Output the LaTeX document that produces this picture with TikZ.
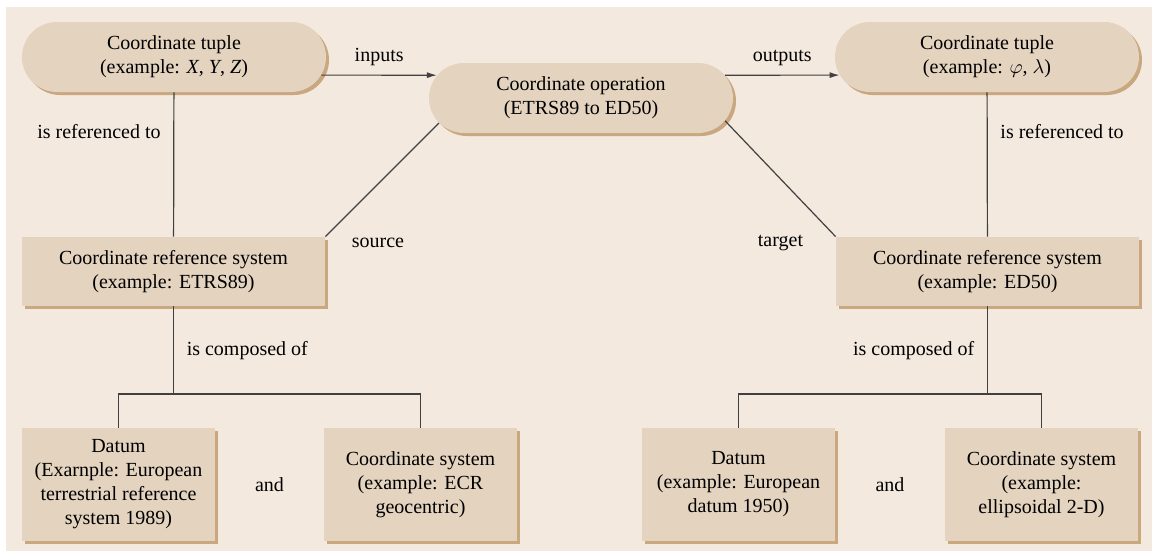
\documentclass[tikz,border=0pt]{standalone}
\usepackage{fontspec}
\setmainfont{LiberationSerif}[
  Extension=.ttf,
  UprightFont=*-Regular,
  ItalicFont=*-Italic,
  BoldFont=*-Bold,
  BoldItalicFont=*-BoldItalic]
\usetikzlibrary{arrows.meta,shapes.misc,shadows}

\definecolor{paper}{HTML}{F3E9DF}
\definecolor{boxfill}{HTML}{E3D3BF}
\definecolor{boxshade}{HTML}{C9A77F}
\definecolor{linkgray}{HTML}{404040}

\tikzset{
  boxshadow/.style={drop shadow={shadow xshift=1.5pt,shadow yshift=-1.5pt,fill=boxshade,opacity=1}},
  pill/.style={rounded rectangle, fill=boxfill, boxshadow, minimum width=152pt, minimum height=35pt, align=center, inner sep=0pt},
  crsbox/.style={rectangle, fill=boxfill, boxshadow, minimum width=151.5pt, minimum height=34.5pt, align=center},
  partbox/.style={rectangle, fill=boxfill, boxshadow, minimum width=96.5pt, minimum height=56.5pt, align=center, inner sep=2pt},
  link/.style={draw=linkgray, line width=0.6pt},
  flow/.style={link, -{Latex[length=5pt,width=3pt]}}
}

\begin{document}
\begin{tikzpicture}[x=0.5pt,y=-0.5pt,font=\rmfamily\fontsize{10}{12}\selectfont]
  \useasboundingbox (0,0) rectangle (1152,553);
  \fill[paper] (6,7) rectangle (1152,551);

  % top row
  \node[pill] (tupleL) at (174,57) {Coordinate tuple\\(example: \textit{X}, \textit{Y}, \textit{Z})};
  \node[pill] (op) at (581,98) {Coordinate operation\\(ETRS89 to ED50)};
  \node[pill] (tupleR) at (987,57) {Coordinate tuple\\(example: $\varphi$, $\lambda$)};

  % reference systems
  \node[crsbox] (crsL) at (173.5,271.5) {Coordinate reference system\\(example: ETRS89)};
  \node[crsbox] (crsR) at (987.5,271.5) {Coordinate reference system\\(example: ED50)};

  % components
  \node[partbox] (datumL) at (118.5,484.5) {Datum\\(Exarnple: European\\terrestrial reference\\system 1989)};
  \node[partbox] (csL) at (420.5,484.5) {Coordinate system\\(example: ECR\\geocentric)};
  \node[partbox] (datumR) at (738.5,484.5) {Datum\\(example: European\\datum 1950)};
  \node[partbox] (csR) at (1041.5,484.5) {Coordinate system\\(example:\\ellipsoidal 2-D)};
  \node (andL) at (269.5,484.5) {and};
  \node (andR) at (890,484.5) {and};

  \coordinate (jL) at (173.5,394);
  \coordinate (jR) at (987.5,394);

  \draw[flow] (tupleL.-7) -- (op.171) node[midway,above=1pt] {inputs};
  \draw[flow] (op.9) -- (tupleR.187) node[midway,above=1pt] {outputs};

  \draw[link] (tupleL) -- (crsL) node[pos=.27,left=3pt] {is referenced to};
  \draw[link] (tupleR) -- (crsR) node[pos=.27,right=3pt] {is referenced to};

  \draw[link] (op.190) -- (crsL.north east);
  \draw[link] (op.-9.5) -- (crsR.north west);
  \node (source) at (378,243) {source};
  \node (target) at (780.5,243) {target};

  \draw[link] (crsL) -- (jL) node[midway,right=3pt] {is composed of};
  \draw[link] (crsR) -- (jR) node[midway,left=3pt] {is composed of};
  \draw[link] (datumL.north) |- (jL) -| (csL.north);
  \draw[link] (datumR.north) |- (jR) -| (csR.north);
\end{tikzpicture}
\end{document}
